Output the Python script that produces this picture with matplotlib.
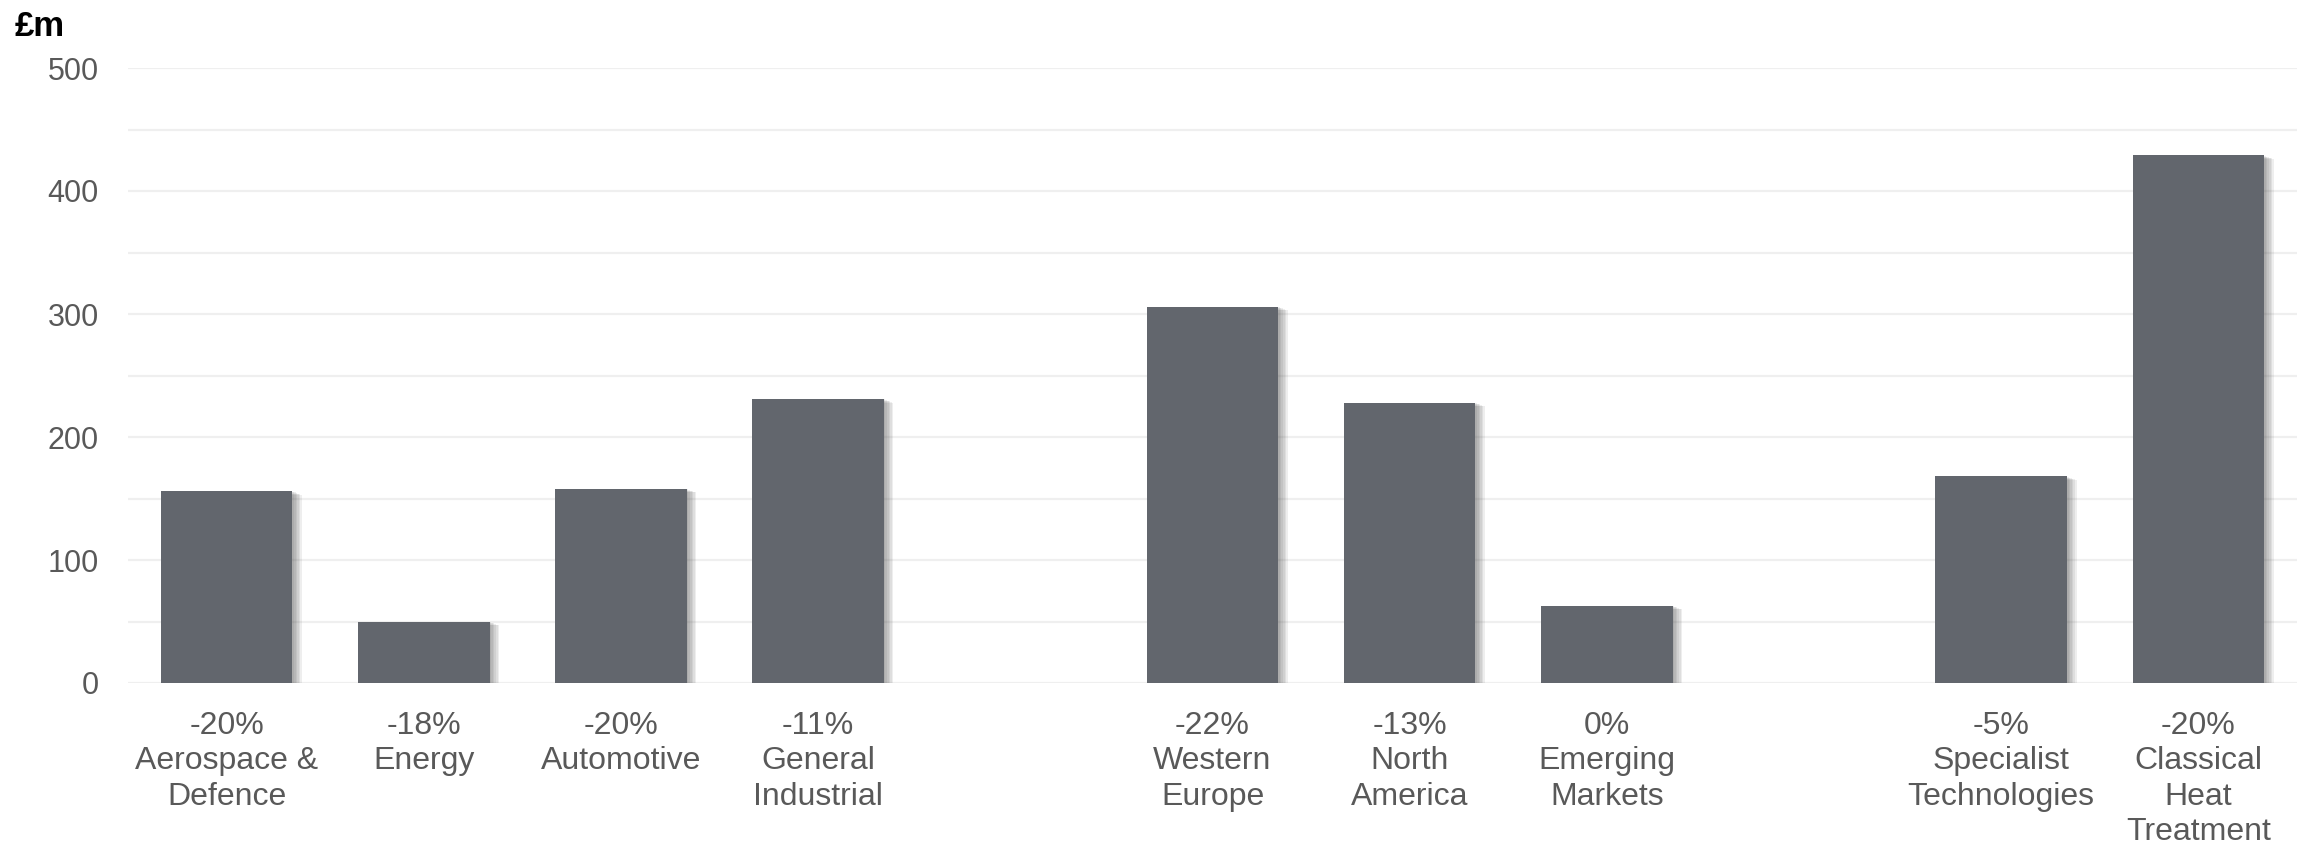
import matplotlib
matplotlib.use("Agg")
import matplotlib.pyplot as plt
import matplotlib.patheffects as pe
import numpy as np

plt.rcParams['font.family'] = ['Liberation Sans', 'DejaVu Sans']

# Revenue by segment (£m) and year-on-year change
categories = ["Aerospace &\nDefence", "Energy", "Automotive", "General\nIndustrial",
              "Western\nEurope", "North\nAmerica", "Emerging\nMarkets",
              "Specialist\nTechnologies", "Classical\nHeat\nTreatment"]
changes = ["-20%", "-18%", "-20%", "-11%", "-22%", "-13%", "0%", "-5%", "-20%"]
revenue = [156, 50, 158, 231, 306, 228, 63, 168, 429]
# slot index of each bar (empty slots separate the three groups)
slots = [0, 1, 2, 3, 5, 6, 7, 9, 10]

bar_color = "#62666d"
text_color = "#595959"
grid_color = "#efefef"

fig = plt.figure(figsize=(23.05, 8.5), dpi=100)
ax = fig.add_axes([128 / 2305, 1 - 683 / 850, (2297 - 128) / 2305, (683 - 68) / 850])

shadow = [pe.SimplePatchShadow(offset=(k * 1.15, -k * 0.45), shadow_rgbFace="#444444", alpha=0.09)
          for k in range(6, 0, -1)]
ax.bar(slots, revenue, width=0.667, color=bar_color, zorder=3,
       path_effects=shadow + [pe.Normal()])

ax.set_xlim(-0.5, 10.5)
ax.set_ylim(0, 500)
ax.set_yticks(np.arange(0, 501, 100))
ax.set_yticks(np.arange(50, 500, 100), minor=True)
ax.grid(True, axis="y", which="both", color=grid_color, linewidth=1.6, zorder=0)
ax.set_xticks(slots)
labels = ax.set_xticklabels([f"{c}\n{n}" for c, n in zip(changes, categories)])
for lab in labels:
    lab.set_linespacing(1.24)

for s in ax.spines.values():
    s.set_visible(False)
ax.tick_params(axis="both", which="both", length=0, labelcolor=text_color)
ax.tick_params(axis="y", labelsize=22, pad=21)
ax.tick_params(axis="x", labelsize=23, pad=20)

fig.text(15 / 2305, 1 - 36 / 850, "£m", fontsize=25, fontweight="bold", color="black",
         ha="left", va="baseline")

fig.savefig("out.png", dpi=100)
